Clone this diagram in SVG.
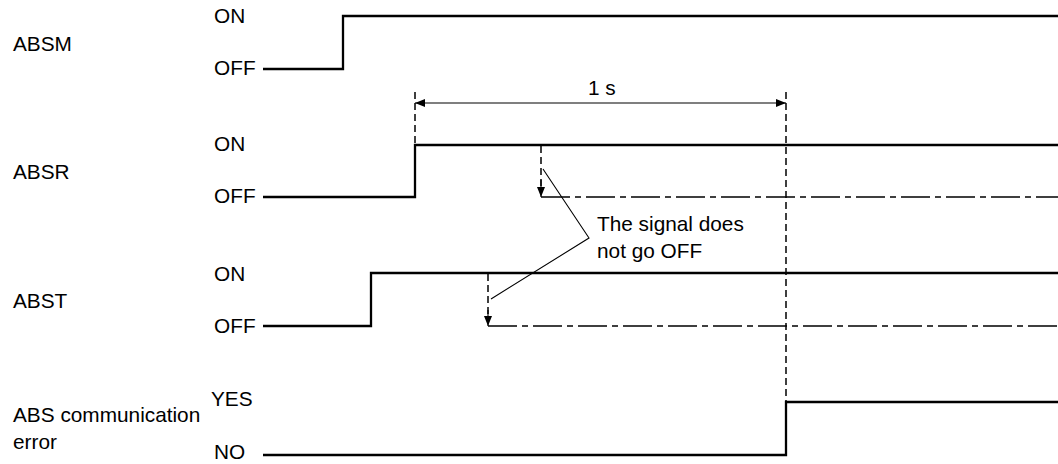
<svg xmlns="http://www.w3.org/2000/svg" width="1058" height="464" viewBox="0 0 1058 464">
<style>
text{font-family:"Liberation Sans",Arial,sans-serif;font-size:20.8px;fill:#000}
.sig{fill:none;stroke:#000;stroke-width:2.3}
.dash{fill:none;stroke:#000;stroke-width:1.5;stroke-dasharray:7 4}
.dd{fill:none;stroke:#000;stroke-width:1.5;stroke-dasharray:29 5 6 5}
.thin{fill:none;stroke:#000;stroke-width:1.1}
</style>
<defs>
<marker id="ah" viewBox="0 0 10 8" refX="10" refY="4" markerWidth="10" markerHeight="8" markerUnits="userSpaceOnUse" orient="auto-start-reverse">
<path d="M0,0 L10,4 L0,8 Z" fill="#000"/>
</marker>
</defs>
<rect width="1058" height="464" fill="#fff"/>
<g id="absm">
<text x="13" y="51">ABSM</text>
<text x="214" y="23">ON</text>
<text x="214" y="75">OFF</text>
<path class="sig" d="M263,69 H343 V16 H1058"/>
</g>
<g id="absr">
<text x="13" y="179">ABSR</text>
<text x="214" y="151">ON</text>
<text x="214" y="203">OFF</text>
<path class="sig" d="M263,197 H415 V145 H1058"/>
<path class="dd" d="M541,197 H1058"/>
</g>
<g id="abst">
<text x="13" y="308">ABST</text>
<text x="214" y="281">ON</text>
<text x="214" y="333">OFF</text>
<path class="sig" d="M263,326 H371 V273 H1058"/>
<path class="dd" d="M488,326 H1058"/>
</g>
<g id="abserr">
<text x="13" y="422">ABS communication</text>
<text x="13" y="449">error</text>
<text x="211" y="406">YES</text>
<text x="214" y="459">NO</text>
<path class="sig" d="M263,455 H786 V402 H1058"/>
</g>
<g id="note">
<text x="597" y="231">The signal does</text>
<text x="597" y="258">not go OFF</text>
</g>
<g id="connectors">
<path class="dash" d="M415,92 V145"/>
<path class="dash" d="M786,92 V402"/>
<line class="thin" x1="415" y1="103" x2="786" y2="103" marker-start="url(#ah)" marker-end="url(#ah)"/>
<text x="588" y="95">1 s</text>
<path class="dash" d="M541,146 V188"/>
<line class="thin" x1="541" y1="180" x2="541" y2="197" marker-end="url(#ah)"/>
<path class="dash" d="M488,274 V317"/>
<line class="thin" x1="488" y1="310" x2="488" y2="326" marker-end="url(#ah)"/>
<path class="thin" d="M543,169 L589,238 L491,299"/>
</g>
</svg>
